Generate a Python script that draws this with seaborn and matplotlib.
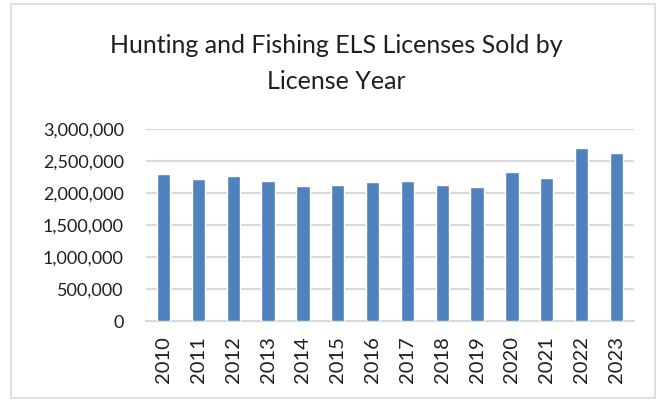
import matplotlib
matplotlib.use("Agg")
import matplotlib.pyplot as plt
import seaborn as sns
import pandas as pd
from matplotlib.patches import Rectangle
from matplotlib.ticker import FuncFormatter

# values
years = ['2010', '2011', '2012', '2013', '2014', '2015', '2016',
         '2017', '2018', '2019', '2020', '2021', '2022', '2023']
licenses = [2292000, 2214000, 2270000, 2190000, 2110000, 2130000, 2178000,
            2190000, 2130000, 2092000, 2330000, 2232000, 2710000, 2635000]
yticks = [0, 500000, 1000000, 1500000, 2000000, 2500000, 3000000]

df = pd.DataFrame({'year': years, 'licenses': licenses})

sns.set_style('white')
plt.rcParams['font.family'] = ['Lato', 'DejaVu Sans']
text_color = '#1f1f1f'

fig = plt.figure(figsize=(6.61, 4.05), dpi=100)
ax = fig.add_axes([0.221, 0.207, 0.738, 0.474])

sns.barplot(data=df, x='year', y='licenses', color='#4F81BD',
            width=0.38, saturation=1, ax=ax, zorder=3)

ax.set_ylim(0, 3000000)
ax.set_yticks(yticks)
ax.yaxis.set_major_formatter(FuncFormatter(lambda v, p: f'{int(v):,}'))
ax.set_xlim(-0.5, len(years) - 0.5)
ax.grid(axis='y', color='#D9D9D9', linewidth=1.5, zorder=0)
ax.set_axisbelow(True)
for side in ['left', 'right', 'top']:
    ax.spines[side].set_visible(False)
ax.spines['bottom'].set_color('#D9D9D9')
ax.spines['bottom'].set_linewidth(1.5)
ax.tick_params(axis='x', rotation=90, labelsize=14.5, length=0, pad=11, labelcolor=text_color)
ax.tick_params(axis='y', labelsize=13, length=0, pad=16, labelcolor=text_color)
ax.set_xlabel('')
ax.set_ylabel('')

fig.text(0.509, 0.870, 'Hunting and Fishing ELS Licenses Sold by',
         ha='center', va='baseline', fontsize=18, color=text_color)
fig.text(0.509, 0.780, 'License Year',
         ha='center', va='baseline', fontsize=18, color=text_color)

# chart border
fig.patches.append(Rectangle((0.0166, 0.0173), 0.974, 0.973, transform=fig.transFigure,
                             fill=False, edgecolor='#D9D9D9', linewidth=1.2))

fig.savefig('out.png', dpi=100)
